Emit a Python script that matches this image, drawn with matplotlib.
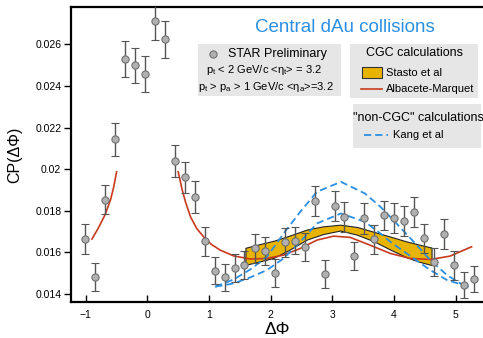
import matplotlib
matplotlib.use('Agg')
import matplotlib.pyplot as plt
from matplotlib.patches import Rectangle
from matplotlib.lines import Line2D

plt.rcParams['font.family'] = ['Liberation Sans', 'DejaVu Sans']
plt.rcParams['mathtext.fontset'] = 'custom'
plt.rcParams['mathtext.rm'] = 'Liberation Sans'
plt.rcParams['mathtext.it'] = 'Liberation Sans:italic'

# STAR preliminary points
dphi = [-1.005, -0.843, -0.686, -0.519, -0.357, -0.194, -0.032, 0.130, 0.290, 0.449,
        0.611, 0.773, 0.935, 1.091, 1.253, 1.415, 1.572, 1.739, 1.901, 2.063,
        2.225, 2.387, 2.550, 2.711, 2.874, 3.036, 3.188, 3.350, 3.512, 3.674,
        3.836, 3.998, 4.160, 4.322, 4.485, 4.647, 4.809, 4.971, 5.133, 5.295]
cp = [0.01662, 0.01483, 0.01854, 0.02143, 0.02529, 0.02498, 0.02457, 0.02711, 0.02623, 0.02038,
      0.01960, 0.01865, 0.01653, 0.01512, 0.01480, 0.01523, 0.01541, 0.01619, 0.01605, 0.01502,
      0.01649, 0.01656, 0.01625, 0.01846, 0.01495, 0.01824, 0.01771, 0.01582, 0.01763, 0.01662,
      0.01778, 0.01765, 0.01749, 0.01795, 0.01667, 0.01555, 0.01689, 0.01538, 0.01443, 0.01472]
cp_err = [0.00072, 0.00067, 0.00072, 0.00080, 0.00088, 0.00086, 0.00086, 0.00091, 0.00089, 0.00078,
          0.00075, 0.00077, 0.00070, 0.00064, 0.00066, 0.00067, 0.00067, 0.00070, 0.00067, 0.00066,
          0.00070, 0.00066, 0.00067, 0.00073, 0.00067, 0.00072, 0.00072, 0.00069, 0.00075, 0.00070,
          0.00070, 0.00074, 0.00072, 0.00072, 0.00070, 0.00067, 0.00072, 0.00069, 0.00064, 0.00064]

# Albacete-Marquet (near side, left piece)
am_near_x = [-0.90, -0.80, -0.69, -0.60, -0.55, -0.50]
am_near_y = [0.01664, 0.01715, 0.01779, 0.01851, 0.01910, 0.01987]
# Albacete-Marquet (right piece)
am_x = [0.50, 0.56, 0.62, 0.70, 0.80, 0.91, 1.04, 1.18, 1.40, 1.67, 1.94, 2.21, 2.48,
        2.75, 3.02, 3.29, 3.61, 3.94, 4.26, 4.59, 4.91, 5.26]
am_y = [0.01987, 0.01905, 0.01840, 0.01770, 0.01715, 0.01675, 0.01638, 0.01611, 0.01583,
        0.01568, 0.01571, 0.01587, 0.01619, 0.01659, 0.01678, 0.01672, 0.01635, 0.01595,
        0.01571, 0.01566, 0.01582, 0.01627]

# Stasto et al band
st_x = [1.59, 1.80, 2.05, 2.30, 2.59, 2.85, 3.13, 3.40, 3.67, 3.95, 4.21, 4.40, 4.61]
st_hi = [0.01622, 0.01638, 0.01656, 0.01680, 0.01710, 0.01725, 0.01733, 0.01722, 0.01699,
         0.01675, 0.01652, 0.01638, 0.01623]
st_lo = [0.01540, 0.01555, 0.01574, 0.01612, 0.01662, 0.01688, 0.01705, 0.01685, 0.01654,
         0.01612, 0.01576, 0.01556, 0.01539]

# Kang et al (two dashed curves)
kang_x = [1.10, 1.40, 1.67, 1.94, 2.21, 2.48, 2.75, 3.14, 3.53, 3.78, 3.94, 4.32, 4.59, 4.86, 5.21]
kang_hi = [0.01435, 0.01470, 0.01518, 0.01579, 0.01691, 0.01795, 0.01891, 0.01939, 0.01883,
           0.01819, 0.01771, 0.01651, 0.01563, 0.01491, 0.01427]
kang_lo = [0.01435, 0.01451, 0.01480, 0.01515, 0.01571, 0.01651, 0.01739, 0.01787, 0.01747,
           0.01691, 0.01651, 0.01571, 0.01515, 0.01467, 0.01435]

W, H = 483, 338
RED = '#c83a1e'
BLUE = '#2b8fe3'
GOLD = '#e8b400'
BOXC = '#e6e6e6'


def fx(px):
    return px / W


def fy(py):
    return 1 - py / H


fig = plt.figure(figsize=(W / 100, H / 100), dpi=100)
ax = fig.add_axes([fx(71), fy(301.7), 1.0 - fx(71), fy(7) - fy(301.7)])

ax.fill_between(st_x, st_lo, st_hi, facecolor=GOLD, edgecolor='#222222', linewidth=0.8, zorder=2)
ax.plot(am_near_x, am_near_y, color=RED, lw=1.2, zorder=3)
ax.plot(am_x, am_y, color=RED, lw=1.2, zorder=3)
ax.plot(kang_x, kang_hi, color=BLUE, lw=1.3, dashes=(4, 2.2), zorder=3)
ax.plot(kang_x, kang_lo, color=BLUE, lw=1.3, dashes=(4, 2.2), zorder=3)
ax.errorbar(dphi, cp, yerr=cp_err, fmt='o', ms=5.2, mfc='#b0b0b0', mec='#707070', mew=0.8,
            ecolor='#555555', elinewidth=1.0, capsize=3, capthick=1.0, zorder=4)

ax.set_xlim(-1.24, 5.445)
ax.set_ylim(0.01363, 0.02779)
ax.set_xticks([-1, 0, 1, 2, 3, 4, 5])
ax.set_yticks([0.014, 0.016, 0.018, 0.02, 0.022, 0.024, 0.026])
ax.set_yticklabels(['0.014', '0.016', '0.018', '0.02', '0.022', '0.024', '0.026'])
ax.tick_params(axis='x', direction='in', length=5, width=1, labelsize=7.5, pad=6)
ax.tick_params(axis='y', direction='out', length=5, width=1, labelsize=7.5, pad=2)
for s in ['left', 'bottom', 'top']:
    ax.spines[s].set_linewidth(1.6)
ax.spines['right'].set_visible(False)

ax.set_xlabel('ΔΦ', fontsize=12.5)
ax.xaxis.set_label_coords(0.5, -0.07)
ax.set_ylabel('CP(ΔΦ)', fontsize=11.5)
ax.yaxis.set_label_coords(-0.118, 0.5)

fig.text(fx(345), fy(27), 'Central dAu collisions', color=BLUE, fontsize=13.5,
         ha='center', va='center')

# legend boxes
for (x0, y0, x1, y1) in [(198, 44, 341, 96), (350, 44, 478, 98), (353, 104, 481, 148)]:
    fig.patches.append(Rectangle((fx(x0), fy(y1)), fx(x1) - fx(x0), fy(y0) - fy(y1),
                                 transform=fig.transFigure, facecolor=BOXC, edgecolor='none',
                                 zorder=0))

fig.lines.append(Line2D([fx(213)], [fy(53.5)], transform=fig.transFigure, marker='o', ms=5.2,
                        mfc='#b0b0b0', mec='#707070', mew=0.8, ls='none'))
fig.text(fx(228), fy(53.5), 'STAR Preliminary', fontsize=9, va='center')
fig.text(fx(264), fy(70), r'p$_\mathrm{t}$ < 2 GeV/c <η$_\mathrm{t}$> = 3.2', fontsize=8,
         ha='center', va='center')
fig.text(fx(266), fy(87), r'p$_\mathrm{t}$ > p$_\mathrm{a}$ > 1 GeV/c <η$_\mathrm{a}$>=3.2', fontsize=8,
         ha='center', va='center')

fig.text(fx(415), fy(53.5), 'CGC calculations', fontsize=9, ha='center', va='center')
fig.patches.append(Rectangle((fx(362), fy(78.3)), fx(382) - fx(362), fy(66.7) - fy(78.3),
                             transform=fig.transFigure, facecolor=GOLD, edgecolor='#333333', lw=0.8))
fig.text(fx(386), fy(72.5), 'Stasto et al', fontsize=8, va='center')
fig.lines.append(Line2D([fx(361), fx(382)], [fy(88.5), fy(88.5)], transform=fig.transFigure,
                        color=RED, lw=1.2))
fig.text(fx(386), fy(88.5), 'Albacete-Marquet', fontsize=8, va='center')

fig.text(fx(418), fy(118), '"non-CGC" calculations', fontsize=9, ha='center', va='center')
fig.lines.append(Line2D([fx(364), fx(388)], [fy(135), fy(135)], transform=fig.transFigure,
                        color=BLUE, lw=1.3, dashes=(4, 2.2)))
fig.text(fx(393), fy(135), 'Kang et al', fontsize=8, va='center')

fig.savefig('out.png', dpi=100)
